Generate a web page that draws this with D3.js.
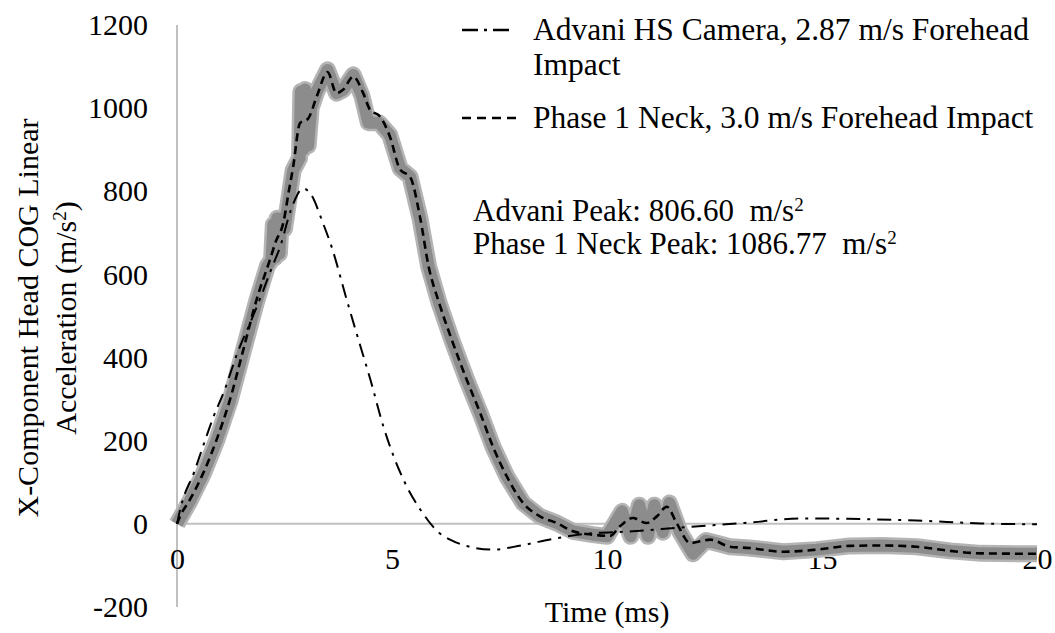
<!DOCTYPE html>
<html>
<head>
<meta charset="utf-8">
<script src="https://cdn.jsdelivr.net/npm/d3@7/dist/d3.min.js"></script>
<style>
  html, body { margin: 0; padding: 0; background: #fff; }
  svg { display: block; }
  text { font-family: "Liberation Serif", "Times New Roman", serif; fill: #000; }
</style>
</head>
<body>
<svg id="chart" width="1055" height="633"></svg>
<script>
// Advani high-speed camera trace (time in ms, acceleration in m/s^2)
const advaniTime = [0, 0.1, 0.4, 0.6, 0.85, 1.1, 1.4, 1.7, 2.0, 2.2, 2.4, 2.65, 2.93, 3.1, 3.4, 3.6, 3.95, 4.2, 4.5, 4.8, 5.25, 5.7, 6.1, 6.35, 6.8, 7.35, 8.0, 8.8, 9.5, 10.6, 11.8, 12.5, 13.3, 14.5, 15.6, 17.2, 18.7, 20];
const advaniValues = [0, 45, 125, 185, 258, 320, 410, 483, 560, 615, 667, 755, 806.60, 795, 722, 665, 538, 450, 346, 234, 110, 28, -22, -38, -55, -62, -52, -35, -24, -18, -8, -3, 3, 13, 12, 8, 1, -1];

// Phase 1 Neck filtered trace
const neckTime = [0, 0.07, 0.3, 0.61, 0.92, 1.23, 1.54, 1.85, 2.16, 2.3, 2.47, 2.6, 2.7, 2.86, 3.05, 3.25, 3.5, 3.71, 3.86, 4.1, 4.33, 4.49, 4.72, 4.95, 5.19, 5.42, 5.65, 5.85, 6.1, 6.4, 6.74, 7.05, 7.35, 7.67, 8.05, 8.44, 8.83, 9.21, 9.67, 10.07, 10.3, 10.6, 10.92, 11.16, 11.39, 11.62, 11.93, 12.4, 12.86, 13.3, 14.1, 14.88, 15.65, 16.4, 17.2, 17.98, 18.7, 20];
const neckValues = [0, 18, 58, 122, 202, 298, 418, 539, 635, 680, 723, 800, 858, 964, 975, 1028, 1086.77, 1036, 1044, 1076, 1036, 996, 980, 932, 852, 835, 739, 620, 530, 440, 346, 267, 185, 114, 50, 18, 2, -18, -26, -29, -6, 14, 2, 18, 41, 2, -46, -38, -55, -58, -67, -62, -53, -52, -55, -65, -71, -72];

// Phase 1 Neck raw trace (drawn as the wide grey band)
const rawTime = [0, 0.3, 0.61, 0.92, 1.23, 1.54, 1.85, 2.1, 2.2, 2.24, 2.28, 2.33, 2.38, 2.43, 2.5, 2.7, 2.85, 2.88, 2.93, 2.98, 3.05, 3.12, 3.25, 3.5, 3.71, 3.86, 4.1, 4.3, 4.45, 4.7, 4.95, 5.19, 5.42, 5.65, 5.85, 6.1, 6.4, 6.74, 7.05, 7.35, 7.67, 8.05, 8.44, 8.83, 9.21, 9.67, 10.0, 10.35, 10.55, 10.75, 10.95, 11.1, 11.3, 11.45, 11.7, 12.0, 12.3, 12.6, 12.86, 13.3, 14.1, 14.88, 15.65, 16.4, 17.2, 17.98, 18.7, 20];
const rawValues = [0, 55, 120, 200, 295, 415, 535, 620, 635, 720, 640, 735, 650, 735, 710, 850, 880, 1040, 900, 1045, 910, 1000, 1040, 1092, 1036, 1044, 1080, 1030, 965, 965, 935, 855, 835, 735, 620, 530, 440, 346, 267, 185, 114, 50, 18, 2, -18, -26, -30, 30, -30, 45, -30, 45, -20, 50, -20, -72, -40, -48, -55, -58, -67, -62, -53, -52, -55, -65, -71, -72];

const xTicks = [0, 5, 10, 15, 20];
const yTicks = [-200, 0, 200, 400, 600, 800, 1000, 1200];

const legendLabels = [
  ["Advani HS Camera, 2.87 m/s Forehead", "Impact"],
  ["Phase 1 Neck, 3.0 m/s Forehead Impact"]
];

const svg = d3.select("#chart");
const FONT = 30;
const LEGEND_FONT = 31.5;

const x = d3.scaleLinear().domain([0, 20]).range([177, 1037]);
const y = d3.scaleLinear().domain([-200, 1200]).range([607, 25]);

const axisGrey = "#c0c0c0";

// zero reference line
svg.append("line")
  .attr("x1", x(0)).attr("x2", x(20))
  .attr("y1", y(0)).attr("y2", y(0))
  .attr("stroke", axisGrey).attr("stroke-width", 2);

// vertical axis line
svg.append("line")
  .attr("x1", x(0)).attr("x2", x(0))
  .attr("y1", y(1200)).attr("y2", y(-200))
  .attr("stroke", axisGrey).attr("stroke-width", 2);

// y axis labels
const yAxis = d3.axisLeft(y).tickValues(yTicks).tickSize(0).tickPadding(29).tickFormat(d => String(d));
const gy = svg.append("g").attr("transform", `translate(${x(0)},0)`).call(yAxis);
gy.select(".domain").remove();
gy.selectAll("text").style("font-size", FONT + "px");

// x axis labels, sitting below the zero line
const xAxis = d3.axisBottom(x).tickValues(xTicks).tickSize(0).tickPadding(24).tickFormat(d => String(d));
const gx = svg.append("g").attr("transform", `translate(0,${y(0)})`).call(xAxis);
gx.select(".domain").remove();
gx.selectAll("text").style("font-size", FONT + "px");

// axis titles
svg.append("text")
  .attr("x", (x(0) + x(20)) / 2).attr("y", 622)
  .attr("text-anchor", "middle")
  .style("font-size", FONT + "px")
  .text("Time (ms)");

const yTitle = svg.append("g").attr("transform", "translate(0,318) rotate(-90)");
yTitle.append("text")
  .attr("x", 0).attr("y", 38)
  .attr("text-anchor", "middle")
  .style("font-size", FONT + "px")
  .text("X-Component Head COG Linear");
const yt2 = yTitle.append("text")
  .attr("x", 0).attr("y", 76)
  .attr("text-anchor", "middle")
  .style("font-size", FONT + "px");
yt2.append("tspan").text("Acceleration (m/s");
yt2.append("tspan").attr("dy", -10).style("font-size", "19px").text("2");
yt2.append("tspan").attr("dy", 10).text(")");

// series
const pts = (t, v) => t.map((d, i) => [d, v[i]]);
const smooth = d3.line().x(d => x(d[0])).y(d => y(d[1])).curve(d3.curveMonotoneX);
const jagged = d3.line().x(d => x(d[0])).y(d => y(d[1]));

const plot = svg.append("g");

plot.append("path")
  .attr("d", jagged(pts(rawTime, rawValues)))
  .attr("fill", "none").attr("stroke", "#b4b4b4")
  .attr("stroke-width", 17).attr("stroke-linejoin", "round").attr("stroke-linecap", "butt");
plot.append("path")
  .attr("d", jagged(pts(rawTime, rawValues)))
  .attr("fill", "none").attr("stroke", "#8c8c8c")
  .attr("stroke-width", 12).attr("stroke-linejoin", "round").attr("stroke-linecap", "butt");

const dashDot = "14,7,3,7";
const dashed = "8,5";

plot.append("path")
  .attr("d", smooth(pts(neckTime, neckValues)))
  .attr("fill", "none").attr("stroke", "#000")
  .attr("stroke-width", 2.6).attr("stroke-dasharray", dashed);

plot.append("path")
  .attr("d", smooth(pts(advaniTime, advaniValues)))
  .attr("fill", "none").attr("stroke", "#000")
  .attr("stroke-width", 2).attr("stroke-dasharray", dashDot);

// legend
const legend = svg.append("g");
const legendRows = [
  { y: 30, dash: "16,6,3,6,16", labels: legendLabels[0] },
  { y: 118, dash: "9,6", labels: legendLabels[1] }
];
legendRows.forEach(r => {
  legend.append("line")
    .attr("x1", 462).attr("x2", 516)
    .attr("y1", r.y).attr("y2", r.y)
    .attr("stroke", "#000").attr("stroke-width", 2.5)
    .attr("stroke-dasharray", r.dash);
  r.labels.forEach((s, i) => {
    legend.append("text")
      .attr("x", 533).attr("y", r.y + 10 + i * 35)
      .style("font-size", LEGEND_FONT + "px")
      .text(s);
  });
});

// peak annotations
const peaks = [
  ["Advani Peak: ", d3.max(advaniValues)],
  ["Phase 1 Neck Peak: ", d3.max(neckValues)]
];
peaks.forEach((p, i) => {
  const t = svg.append("text")
    .attr("x", 473).attr("y", 221 + i * 33)
    .style("font-size", "31px")
    .attr("xml:space", "preserve");
  t.append("tspan").text(p[0] + p[1].toFixed(2) + "  m/s");
  t.append("tspan").attr("dy", -10).style("font-size", "19px").text("2");
});
</script>
</body>
</html>
